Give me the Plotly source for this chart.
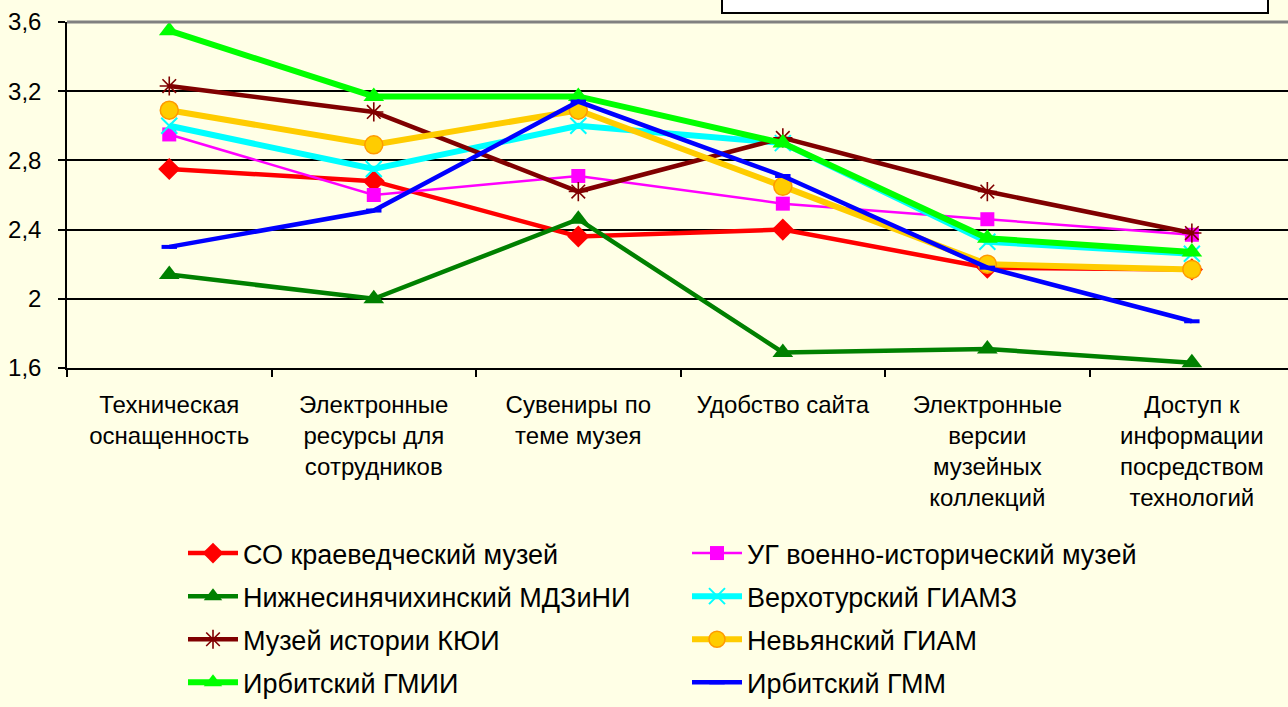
import plotly.graph_objects as go

# Categories (x axis) and tick labels
categories = [
    "Техническая<br>оснащенность",
    "Электронные<br>ресурсы для<br>сотрудников",
    "Сувениры по<br>теме музея",
    "Удобство сайта",
    "Электронные<br>версии<br>музейных<br>коллекций",
    "Доступ к<br>информации<br>посредством<br>технологий",
]
y_tickvals = [1.6, 2.0, 2.4, 2.8, 3.2, 3.6]
y_ticktext = ["1,6", "2", "2,4", "2,8", "3,2", "3,6"]

# Series values
so_kraeved = [2.75, 2.68, 2.36, 2.40, 2.18, 2.17]
ug_voen = [2.95, 2.60, 2.71, 2.55, 2.46, 2.37]
nizhnesin = [2.14, 2.00, 2.46, 1.69, 1.71, 1.63]
verkhotur = [3.00, 2.75, 3.00, 2.90, 2.33, 2.26]
kyui = [3.23, 3.08, 2.62, 2.93, 2.62, 2.38]
nevyansk = [3.09, 2.89, 3.09, 2.65, 2.20, 2.17]
irbit_gmii = [3.55, 3.17, 3.17, 2.90, 2.35, 2.27]
irbit_gmm = [2.30, 2.51, 3.14, 2.71, 2.18, 1.87]

FONT = "Arial, Liberation Sans, sans-serif"

series = [
    # name, values, line color, line width, marker dict, legend
    ("СО краеведческий музей", so_kraeved, "#FF0000", 4.5,
     dict(symbol="diamond", size=17, color="#FF0000"), "legend"),
    ("УГ военно-исторический музей", ug_voen, "#FF00FF", 2.5,
     dict(symbol="square", size=14, color="#FF00FF"), "legend2"),
    ("Нижнесинячихинский МДЗиНИ", nizhnesin, "#008000", 4.5,
     dict(symbol="triangle-up", size=18, color="#008000"), "legend"),
    ("Верхотурский ГИАМЗ", verkhotur, "#00FFFF", 6,
     dict(symbol="x-thin-open", size=16, color="#00FFFF",
          line=dict(color="#00FFFF", width=2)), "legend2"),
    ("Музей истории КЮИ", kyui, "#800000", 4.5,
     dict(symbol="asterisk-open", size=16, color="#800000",
          line=dict(color="#800000", width=1.6)), "legend"),
    ("Невьянский ГИАМ", nevyansk, "#FFCC00", 6,
     dict(symbol="circle", size=18, color="#FFCC00",
          line=dict(color="#FF9900", width=1.5)), "legend2"),
    ("Ирбитский ГМИИ", irbit_gmii, "#00FF00", 6,
     dict(symbol="triangle-up", size=18, color="#00FF00"), "legend"),
    ("Ирбитский ГММ", irbit_gmm, "#0000FF", 4.5,
     dict(symbol="line-ew-open", size=11, color="#0000FF",
          line=dict(color="#0000FF", width=4)), "legend2"),
]

fig = go.Figure()
for name, vals, color, width, marker, leg in series:
    fig.add_trace(go.Scatter(
        x=categories, y=vals, name=name, mode="lines+markers",
        line=dict(color=color, width=width),
        marker=marker, legend=leg, legendgroup=name,
    ))

BG = "#FFFFE6"

# plot area geometry in pixels
L, T, B, W, H = 67, 22, 339, 1288, 707
plot_w = W - L
plot_h = H - T - B


def px_x(px):
    return (px - L) / plot_w


def px_y(py):
    return (H - B - py) / plot_h


legend_style = dict(
    yanchor="bottom", y=px_y(H), xanchor="left",
    bgcolor="rgba(0,0,0,0)", font=dict(size=27, family=FONT),
    tracegroupgap=5, itemwidth=50,
)

fig.update_layout(
    width=W, height=H,
    margin=dict(l=L, r=0, t=T, b=B),
    paper_bgcolor=BG, plot_bgcolor=BG,
    font=dict(family=FONT, size=24, color="#000000"),
    showlegend=True,
    legend=dict(x=px_x(183), **legend_style),
    legend2=dict(x=px_x(687), **legend_style),
    xaxis=dict(
        type="category", range=[-0.5, 5.47],
        tickson="boundaries", ticks="outside", ticklen=7, tickwidth=1.5,
        tickcolor="#000000", showline=True, linecolor="#000000", linewidth=1.5,
        showgrid=False, tickfont=dict(size=24, family=FONT),
        ticklabelstandoff=14,
    ),
    yaxis=dict(
        range=[1.6, 3.6], tickvals=y_tickvals, ticktext=y_ticktext,
        ticks="outside", ticklen=7, tickwidth=1.5, tickcolor="#000000",
        showline=True, linecolor="#000000", linewidth=1.5,
        showgrid=True, gridcolor="#000000", gridwidth=1.5,
        zeroline=False, tickfont=dict(size=24, family=FONT),
        ticklabelstandoff=12,
    ),
    shapes=[
        # grey top border of the plot area
        dict(type="line", xref="paper", yref="paper", x0=0, x1=1,
             y0=1, y1=1, line=dict(color="#808080", width=3), layer="above"),
        # white title frame at the top edge
        dict(type="rect", xref="paper", yref="paper",
             x0=px_x(722), x1=px_x(1268), y0=px_y(13), y1=px_y(-10),
             fillcolor="#FFFFFF", line=dict(color="#000000", width=2)),
    ],
)

fig.write_html("out.html")
